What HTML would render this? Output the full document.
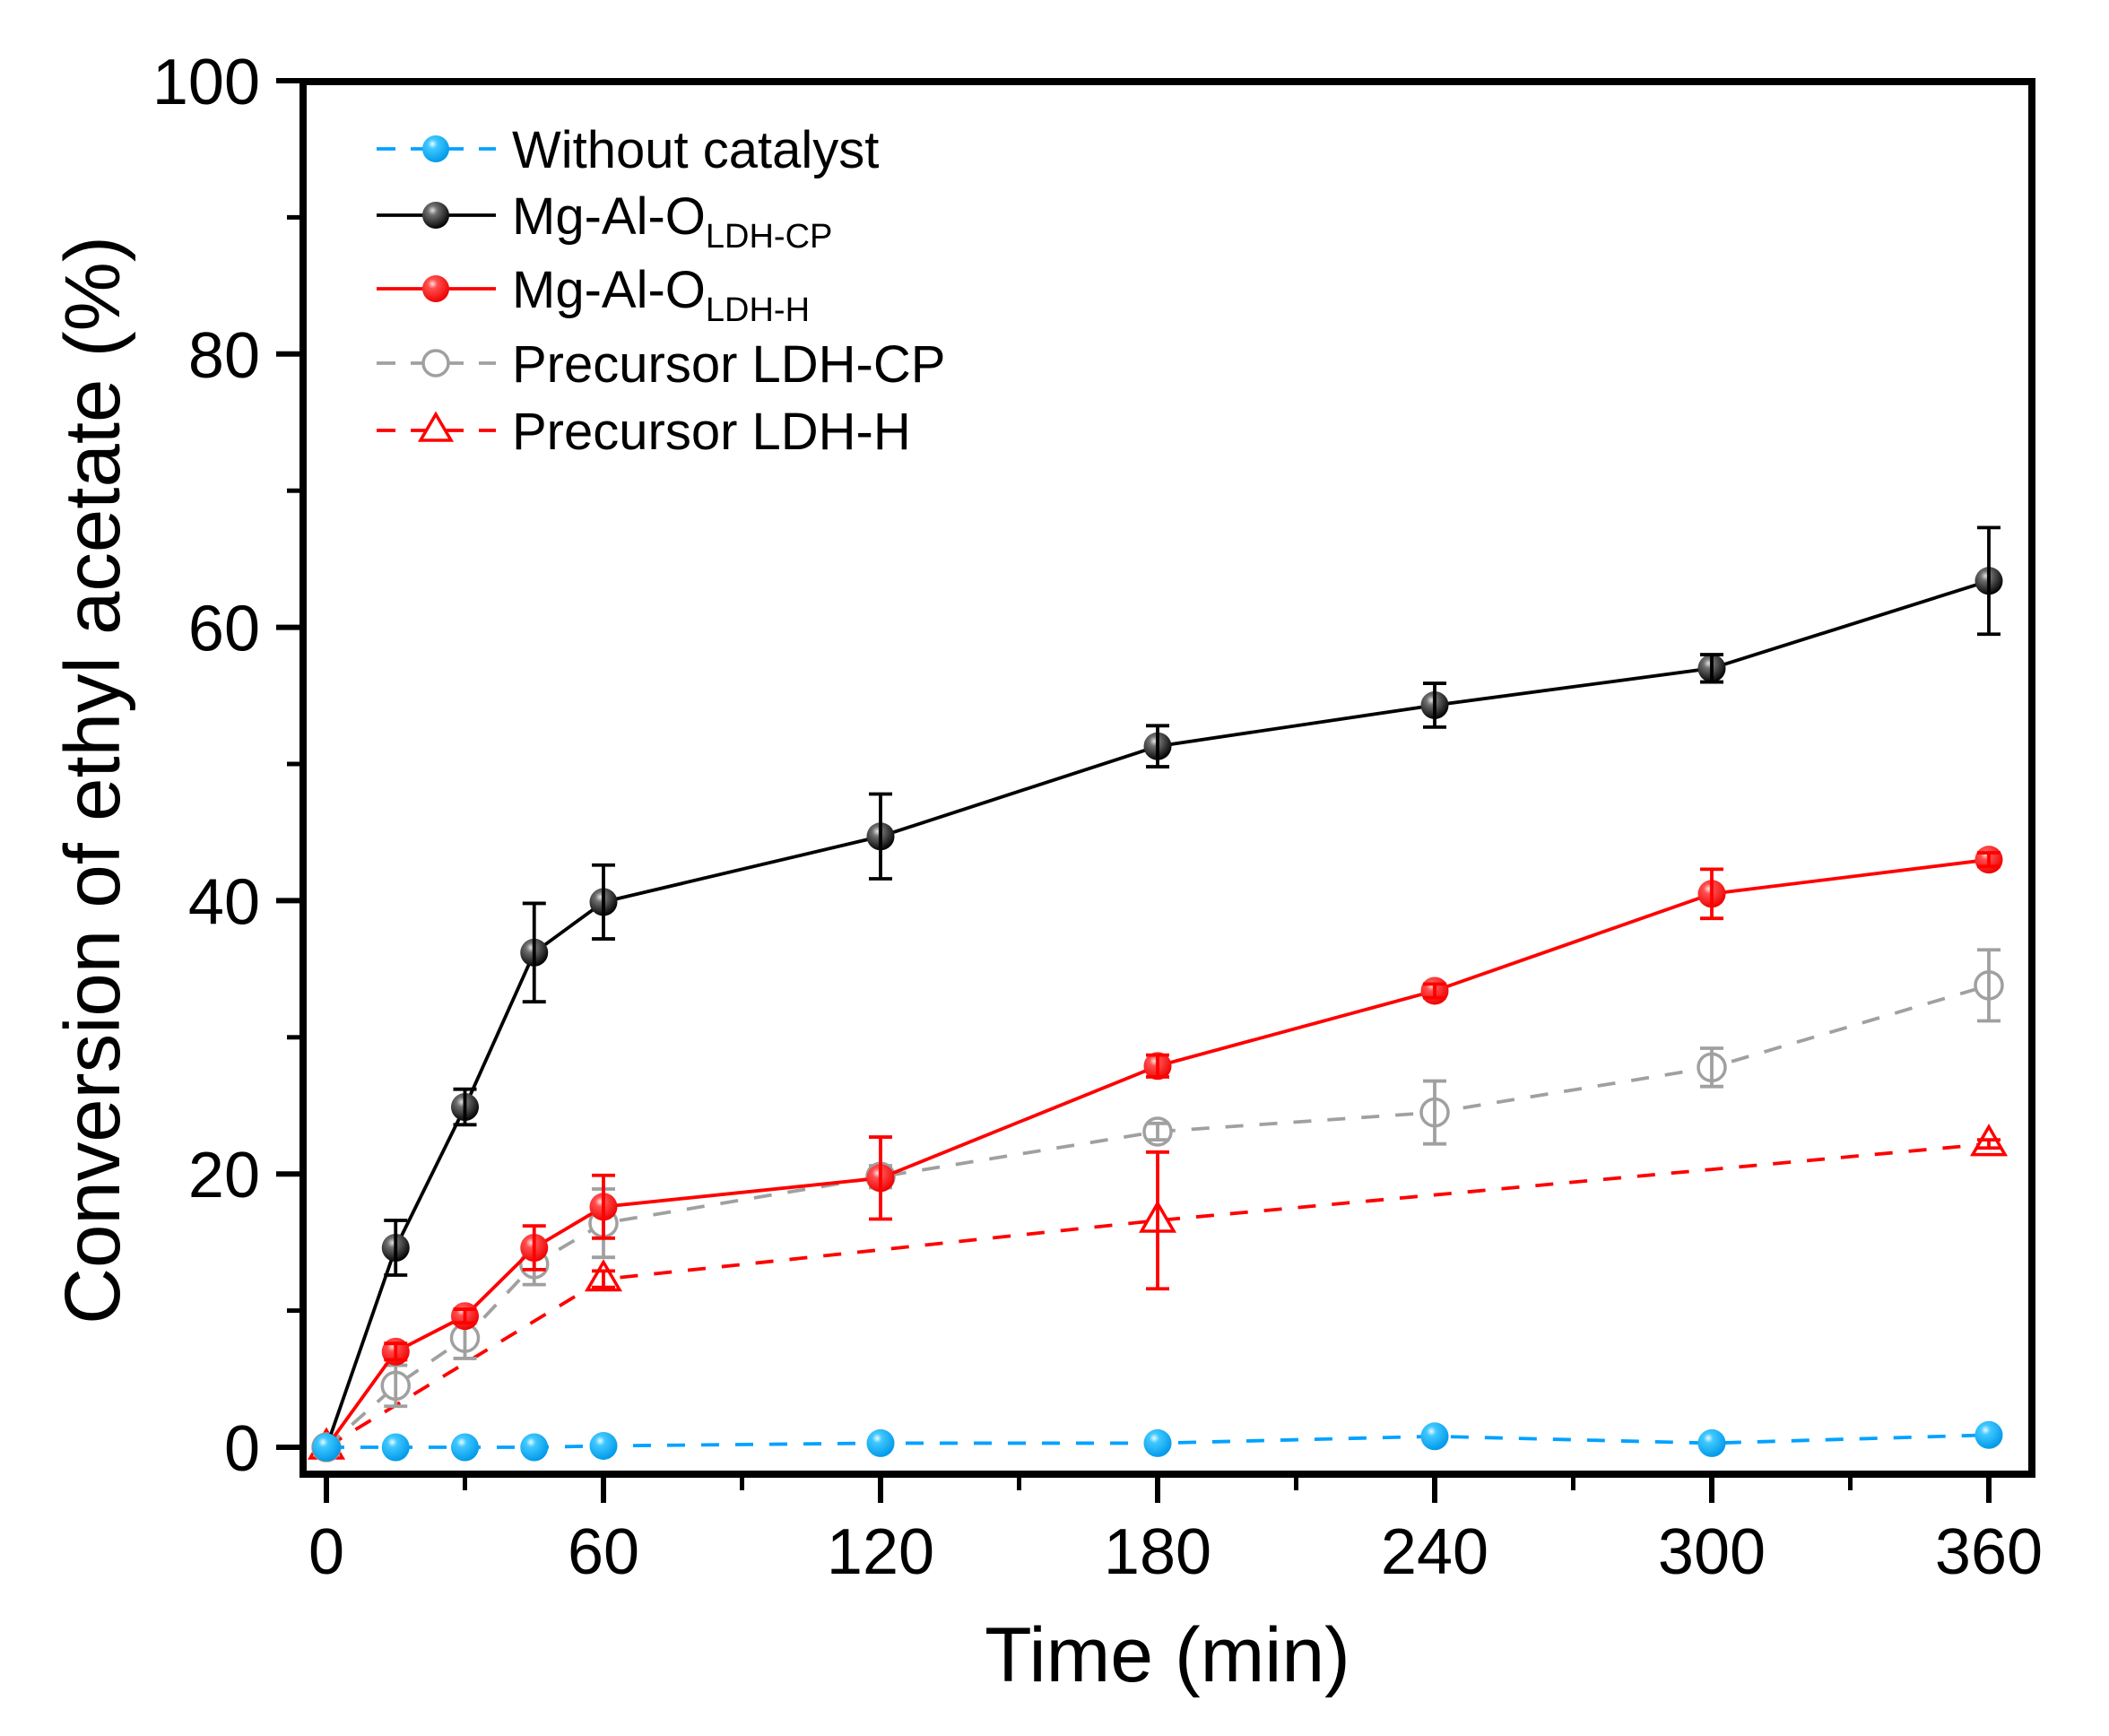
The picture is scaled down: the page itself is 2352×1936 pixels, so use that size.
<!DOCTYPE html>
<html><head><meta charset="utf-8"><style>
html,body{margin:0;padding:0;background:#fff;}
svg{display:block;font-family:"Liberation Sans",Arial,sans-serif;}
</style></head><body>
<svg id="chart" width="2352" height="1936" viewBox="0 0 2352 1936" xmlns="http://www.w3.org/2000/svg">
<defs>
<radialGradient id="gBlue" cx="0.38" cy="0.32" r="0.7"><stop offset="0" stop-color="#e8fbff"/><stop offset="0.25" stop-color="#40c8ff"/><stop offset="1" stop-color="#0098e8"/></radialGradient>
<radialGradient id="gBlack" cx="0.38" cy="0.32" r="0.7"><stop offset="0" stop-color="#e0e0e0"/><stop offset="0.25" stop-color="#707070"/><stop offset="1" stop-color="#000"/></radialGradient>
<radialGradient id="gRed" cx="0.38" cy="0.32" r="0.7"><stop offset="0" stop-color="#ffe0e0"/><stop offset="0.25" stop-color="#ff5050"/><stop offset="1" stop-color="#ee0000"/></radialGradient>
</defs>
<g id="plot"></g>
<g id="axes"></g>
<g id="legend"></g>
</svg>
<script>
const times = [0, 15, 30, 45, 60, 120, 180, 240, 300, 360];
const noCatVals = [0, 0, 0, 0, 0.1, 0.3, 0.3, 0.8, 0.3, 0.9];
const cpVals = [0, 14.6, 24.9, 36.2, 39.9, 44.7, 51.3, 54.3, 57.0, 63.4];
const cpErr = [0, 2.0, 1.3, 3.6, 2.7, 3.1, 1.5, 1.6, 1.0, 3.9];
const hVals = [0, 7.0, 9.6, 14.6, 17.6, 19.7, 27.9, 33.4, 40.5, 43.0];
const hErr = [0, 0.6, 0.5, 1.6, 2.3, 3.0, 0.8, 0.5, 1.8, 0.5];
const preCpVals = [0, 4.5, 8.0, 13.4, 16.4, 19.8, 23.1, 24.5, 27.8, 33.8];
const preCpErr = [0, 1.5, 1.5, 1.5, 2.5, 0.8, 0.6, 2.3, 1.4, 2.6];
const preHTimes = [0, 60, 180, 360];
const preHVals = [0, 12.3, 16.6, 22.2];
const preHErr = [0, 0.6, 5.0, 0.3];
const xTicks = [0, 60, 120, 180, 240, 300, 360];
const xMinor = [30, 90, 150, 210, 270, 330];
const yTicks = [0, 20, 40, 60, 80, 100];
const yMinor = [10, 30, 50, 70, 90];

const NS = "http://www.w3.org/2000/svg";
const X = t => 364 + t * 309 / 60;
const Y = v => 1614 - v * 15.24;
function mk(tag, attrs, parent){const e=document.createElementNS(NS,tag);for(const k in attrs)e.setAttribute(k,attrs[k]);parent.appendChild(e);return e;}
const plot = document.getElementById('plot');
const axes = document.getElementById('axes');
const legend = document.getElementById('legend');

function series(name, ts, vs, errs, color, dash, marker){
  const g = mk('g', {}, plot);
  
  
  const pts = ts.map((t,i)=>X(t)+','+Y(vs[i])).join(' ');
  const pl = mk('polyline', {points: pts, fill:'none', stroke: color, 'stroke-width': 3.8, 'stroke-dasharray': dash || 'none'}, g);
  
  
  ts.forEach((t,i)=>{
    const cx = X(t), cy = Y(vs[i]);
    let m;
    if (marker === 'tri') {
      m = mk('polygon', {points: `${cx},${cy-19} ${cx-18},${cy+12} ${cx+18},${cy+12}`, fill:'#fff', stroke: color, 'stroke-width': 3.5}, g);
    } else if (marker === 'open') {
      m = mk('circle', {cx, cy, r: 15, fill:'#fff', stroke: color, 'stroke-width': 3.5}, g);
    } else {
      m = mk('circle', {cx, cy, r: 15.5, fill: marker}, g);
    }
    
    
    if (errs && errs[i] > 0) {
      const e = errs[i];
      const eb = mk('path', {d:`M${cx},${Y(vs[i]+e)}V${Y(vs[i]-e)}M${cx-13},${Y(vs[i]+e)}h26M${cx-13},${Y(vs[i]-e)}h26`, stroke: color, 'stroke-width': 3.8, fill:'none'}, g);
      
      
    }
  });
}
series('precursor-ldh-h', preHTimes, preHVals, preHErr, '#ff0000', '20 18', 'tri');
series('precursor-ldh-cp', times, preCpVals, preCpErr, '#a0a0a0', '20 18', 'open');
series('mg-al-o-ldh-h', times, hVals, hErr, '#ff0000', null, 'url(#gRed)');
series('mg-al-o-ldh-cp', times, cpVals, cpErr, '#000000', null, 'url(#gBlack)');
series('without-catalyst', times, noCatVals, null, '#00a2ff', '20 18', 'url(#gBlue)');

const fr = mk('rect', {x:338, y:91, width:1928, height:1553, fill:'none', stroke:'#000', 'stroke-width':8}, axes);


xTicks.forEach(t=>{
  const l = mk('line', {x1:X(t), x2:X(t), y1:1648, y2:1676, stroke:'#000', 'stroke-width':6}, axes);
  
  
  const tx = mk('text', {x:X(t), y:1755, 'font-size':72, 'text-anchor':'middle'}, axes);
  tx.textContent = t;
  
  
});
xMinor.forEach(t=>{
  const l = mk('line', {x1:X(t), x2:X(t), y1:1648, y2:1662, stroke:'#000', 'stroke-width':5}, axes);
  
  
});
yTicks.forEach(v=>{
  const l = mk('line', {x1:308, x2:334, y1:Y(v), y2:Y(v), stroke:'#000', 'stroke-width':6}, axes);
  
  
  const tx = mk('text', {x:290, y:Y(v)+26, 'font-size':72, 'text-anchor':'end'}, axes);
  tx.textContent = v;
  
  
});
yMinor.forEach(v=>{
  const l = mk('line', {x1:320, x2:334, y1:Y(v), y2:Y(v), stroke:'#000', 'stroke-width':5}, axes);
  
  
});
const xt = mk('text', {x:1302, y:1875, 'font-size':86, 'text-anchor':'middle'}, axes);
xt.textContent = 'Time (min)';


const yt = mk('text', {x:0, y:0, 'font-size':87, 'text-anchor':'middle', transform:'translate(133,870) rotate(-90)'}, axes);
yt.textContent = 'Conversion of ethyl acetate (%)';



const legItems = [
  ['without-catalyst','#00a2ff','20 18','url(#gBlue)','Without catalyst',''],
  ['mg-al-o-ldh-cp','#000','none','url(#gBlack)','Mg-Al-O','LDH-CP'],
  ['mg-al-o-ldh-h','#ff0000','none','url(#gRed)','Mg-Al-O','LDH-H'],
  ['precursor-ldh-cp','#a0a0a0','20 18','open','Precursor LDH-CP',''],
  ['precursor-ldh-h','#ff0000','20 18','tri','Precursor LDH-H','']
];
const legY = [166, 240, 322, 405, 480];
legItems.forEach((it,i)=>{
  const y = legY[i];
  const g = mk('g', {}, legend);
  
  
  mk('line', {x1:420, x2:553, y1:y, y2:y, stroke:it[1], 'stroke-width':3.8, 'stroke-dasharray': it[2]==='none' ? 'none' : '21 17'}, g);
  const cx = 486;
  if (it[3]==='open') mk('circle', {cx, cy:y, r:14, fill:'#fff', stroke:it[1], 'stroke-width':3.5}, g);
  else if (it[3]==='tri') mk('polygon', {points:`${cx},${y-18} ${cx-17},${y+11} ${cx+17},${y+11}`, fill:'#fff', stroke:it[1], 'stroke-width':3.5}, g);
  else mk('circle', {cx, cy:y, r:15, fill:it[3]}, g);
  const tx = mk('text', {x:571, y:y+21, 'font-size':58}, g);
  tx.textContent = it[4];
  if (it[5]) {
    const s = mk('tspan', {'font-size':38, dy:15}, tx);
    s.textContent = it[5];
  }
});
</script>
</body></html>
